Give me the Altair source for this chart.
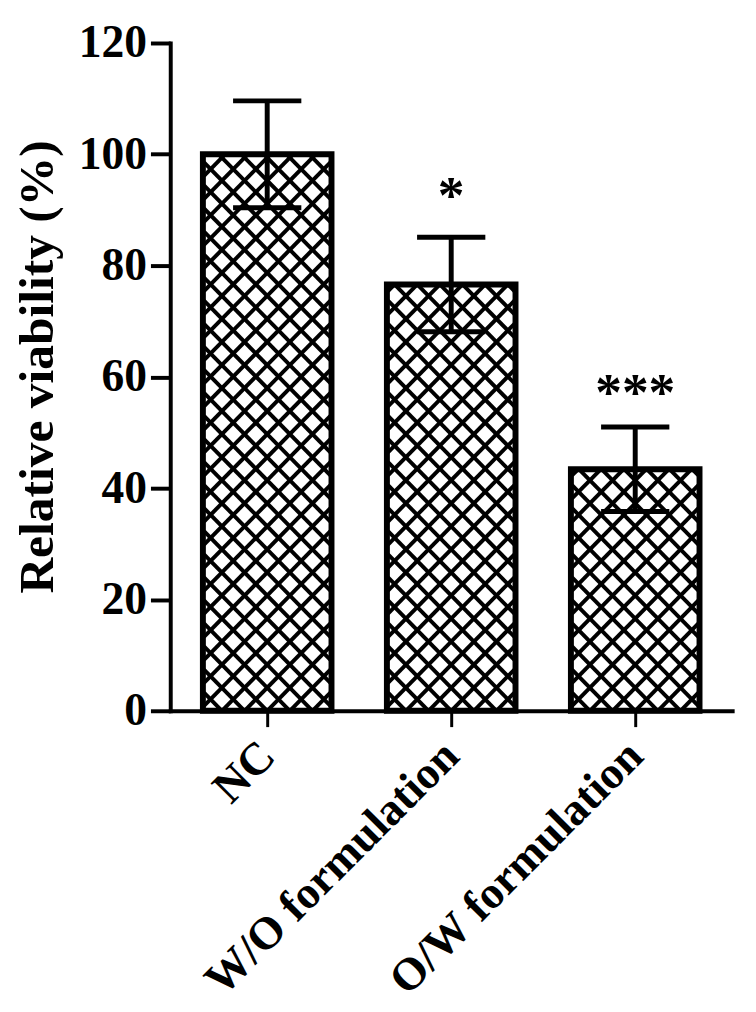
import json
import math
import altair as alt
import pandas as pd

# ---- data ----
groups = ["NC", "W/O formulation", "O/W formulation"]
means = [100.0, 76.6, 43.4]
errs = [9.6, 8.5, 7.6]
sig = ["", "*", "***"]
sig_y = [None, 89.5, 54.0]
y_ticks = [0, 20, 40, 60, 80, 100, 120]

# ---- layout constants ----
W, H = 568, 675
XMAX, YMAX = 3, 120
BAR_W = 130
HATCH_P = 23.3
FONT = "Liberation Serif"

df = pd.DataFrame({
    "group": groups,
    "pos": [i + 0.5 for i in range(len(groups))],
    "mean": means,
    "lo": [m - e for m, e in zip(means, errs)],
    "hi": [m + e for m, e in zip(means, errs)],
})

stars = pd.DataFrame({
    "pos": [i + 0.5 for i in range(len(groups)) if sig[i]],
    "sy": [sig_y[i] for i in range(len(groups)) if sig[i]],
    "txt": [sig[i] for i in range(len(groups)) if sig[i]],
})

# crosshatch segments clipped to each bar (derived from bar values via scale factors)
sx = W / XMAX
sy = H / YMAX
half = BAR_W / 2
rows = []
for i, m in enumerate(means):
    uc = (i + 0.5) * sx
    uL, uR, vT = -half, half, m * sy
    for k in range(math.floor(-uR / HATCH_P) - 1, math.ceil((vT - uL) / HATCH_P) + 2):
        c = k * HATCH_P
        u1 = max(uL, -c); u2 = min(uR, vT - c)
        if u2 - u1 > 0.5:
            rows.append({"x": (uc + u1) / sx, "y": (u1 + c) / sy, "x2": (uc + u2) / sx, "y2": (u2 + c) / sy})
    for k in range(math.floor(uL / HATCH_P) - 1, math.ceil((uR + vT) / HATCH_P) + 2):
        c = k * HATCH_P
        u1 = max(uL, c - vT); u2 = min(uR, c)
        if u2 - u1 > 0.5:
            rows.append({"x": (uc + u1) / sx, "y": (c - u1) / sy, "x2": (uc + u2) / sx, "y2": (c - u2) / sy})
hatch_df = pd.DataFrame(rows)

xscale = alt.Scale(domain=[0, XMAX], nice=False, zero=False)
yscale = alt.Scale(domain=[0, YMAX], nice=False)

label_expr = json.dumps(groups) + "[floor(datum.value)]"

x_axis = alt.Axis(
    values=[i + 0.5 for i in range(len(groups))],
    labelExpr=label_expr,
    labelAngle=-45,
    labelAlign="right",
    labelBaseline="middle",
    labelPadding=22,
    labelFontSize=46,
    labelLimit=0,
    tickSize=16,
    tickWidth=3,
    grid=False,
    labelOverlap=False,
    title=None,
)
y_axis = alt.Axis(
    values=y_ticks,
    labelFontSize=46,
    labelPadding=4,
    tickSize=20,
    tickWidth=4,
    grid=False,
    title="Relative viability (%)",
    titleFontSize=50,
    titleAngle=270,
    titleX=-134,
    titleY=327,
    titleAlign="center",
    titleBaseline="middle",
)


def X(field):
    return alt.X(field, scale=xscale, axis=x_axis)


def Y(field):
    return alt.Y(field, scale=yscale, axis=y_axis)


base = alt.Chart(df)

bars_fill = base.mark_bar(size=BAR_W, color="white").encode(x=X("pos:Q"), y=Y("mean:Q"))

hatch = alt.Chart(hatch_df).mark_rule(color="black", strokeWidth=4, strokeCap="butt").encode(
    x=X("x:Q"), x2="x2:Q", y=Y("y:Q"), y2="y2:Q",
)

outline = base.mark_bar(size=BAR_W, color="black", fillOpacity=0, stroke="black",
                        strokeWidth=6, strokeJoin="miter").encode(x=X("pos:Q"), y=Y("mean:Q"))

err = base.mark_rule(color="black", strokeWidth=5).encode(x=X("pos:Q"), y=Y("lo:Q"), y2="hi:Q")

caps = base.transform_fold(["lo", "hi"], as_=["k", "v"]).mark_tick(
    orient="horizontal", size=69, thickness=5, color="black", opacity=1
).encode(x=X("pos:Q"), y=Y("v:Q"))

star_text = alt.Chart(stars).mark_text(
    font=FONT, fontSize=54, fontWeight="bold", baseline="alphabetic", color="black"
).encode(x=X("pos:Q"), y=Y("sy:Q"), text="txt:N")

chart = alt.layer(bars_fill, hatch, outline, err, caps, star_text).properties(
    width=W,
    height=H,
    autosize=alt.AutoSizeParams(type="none"),
    padding={"left": 164, "top": 30, "right": 16, "bottom": 290},
    background="white",
).configure_view(stroke=None).configure_axis(
    domainColor="black",
    domainWidth=4,
    tickColor="black",
    labelColor="black",
    titleColor="black",
    labelFont=FONT,
    titleFont=FONT,
    labelFontWeight="bold",
    titleFontWeight="bold",
    domainCap="square",
)

chart.save("out.html", embed_options={"renderer": "svg", "actions": False})
